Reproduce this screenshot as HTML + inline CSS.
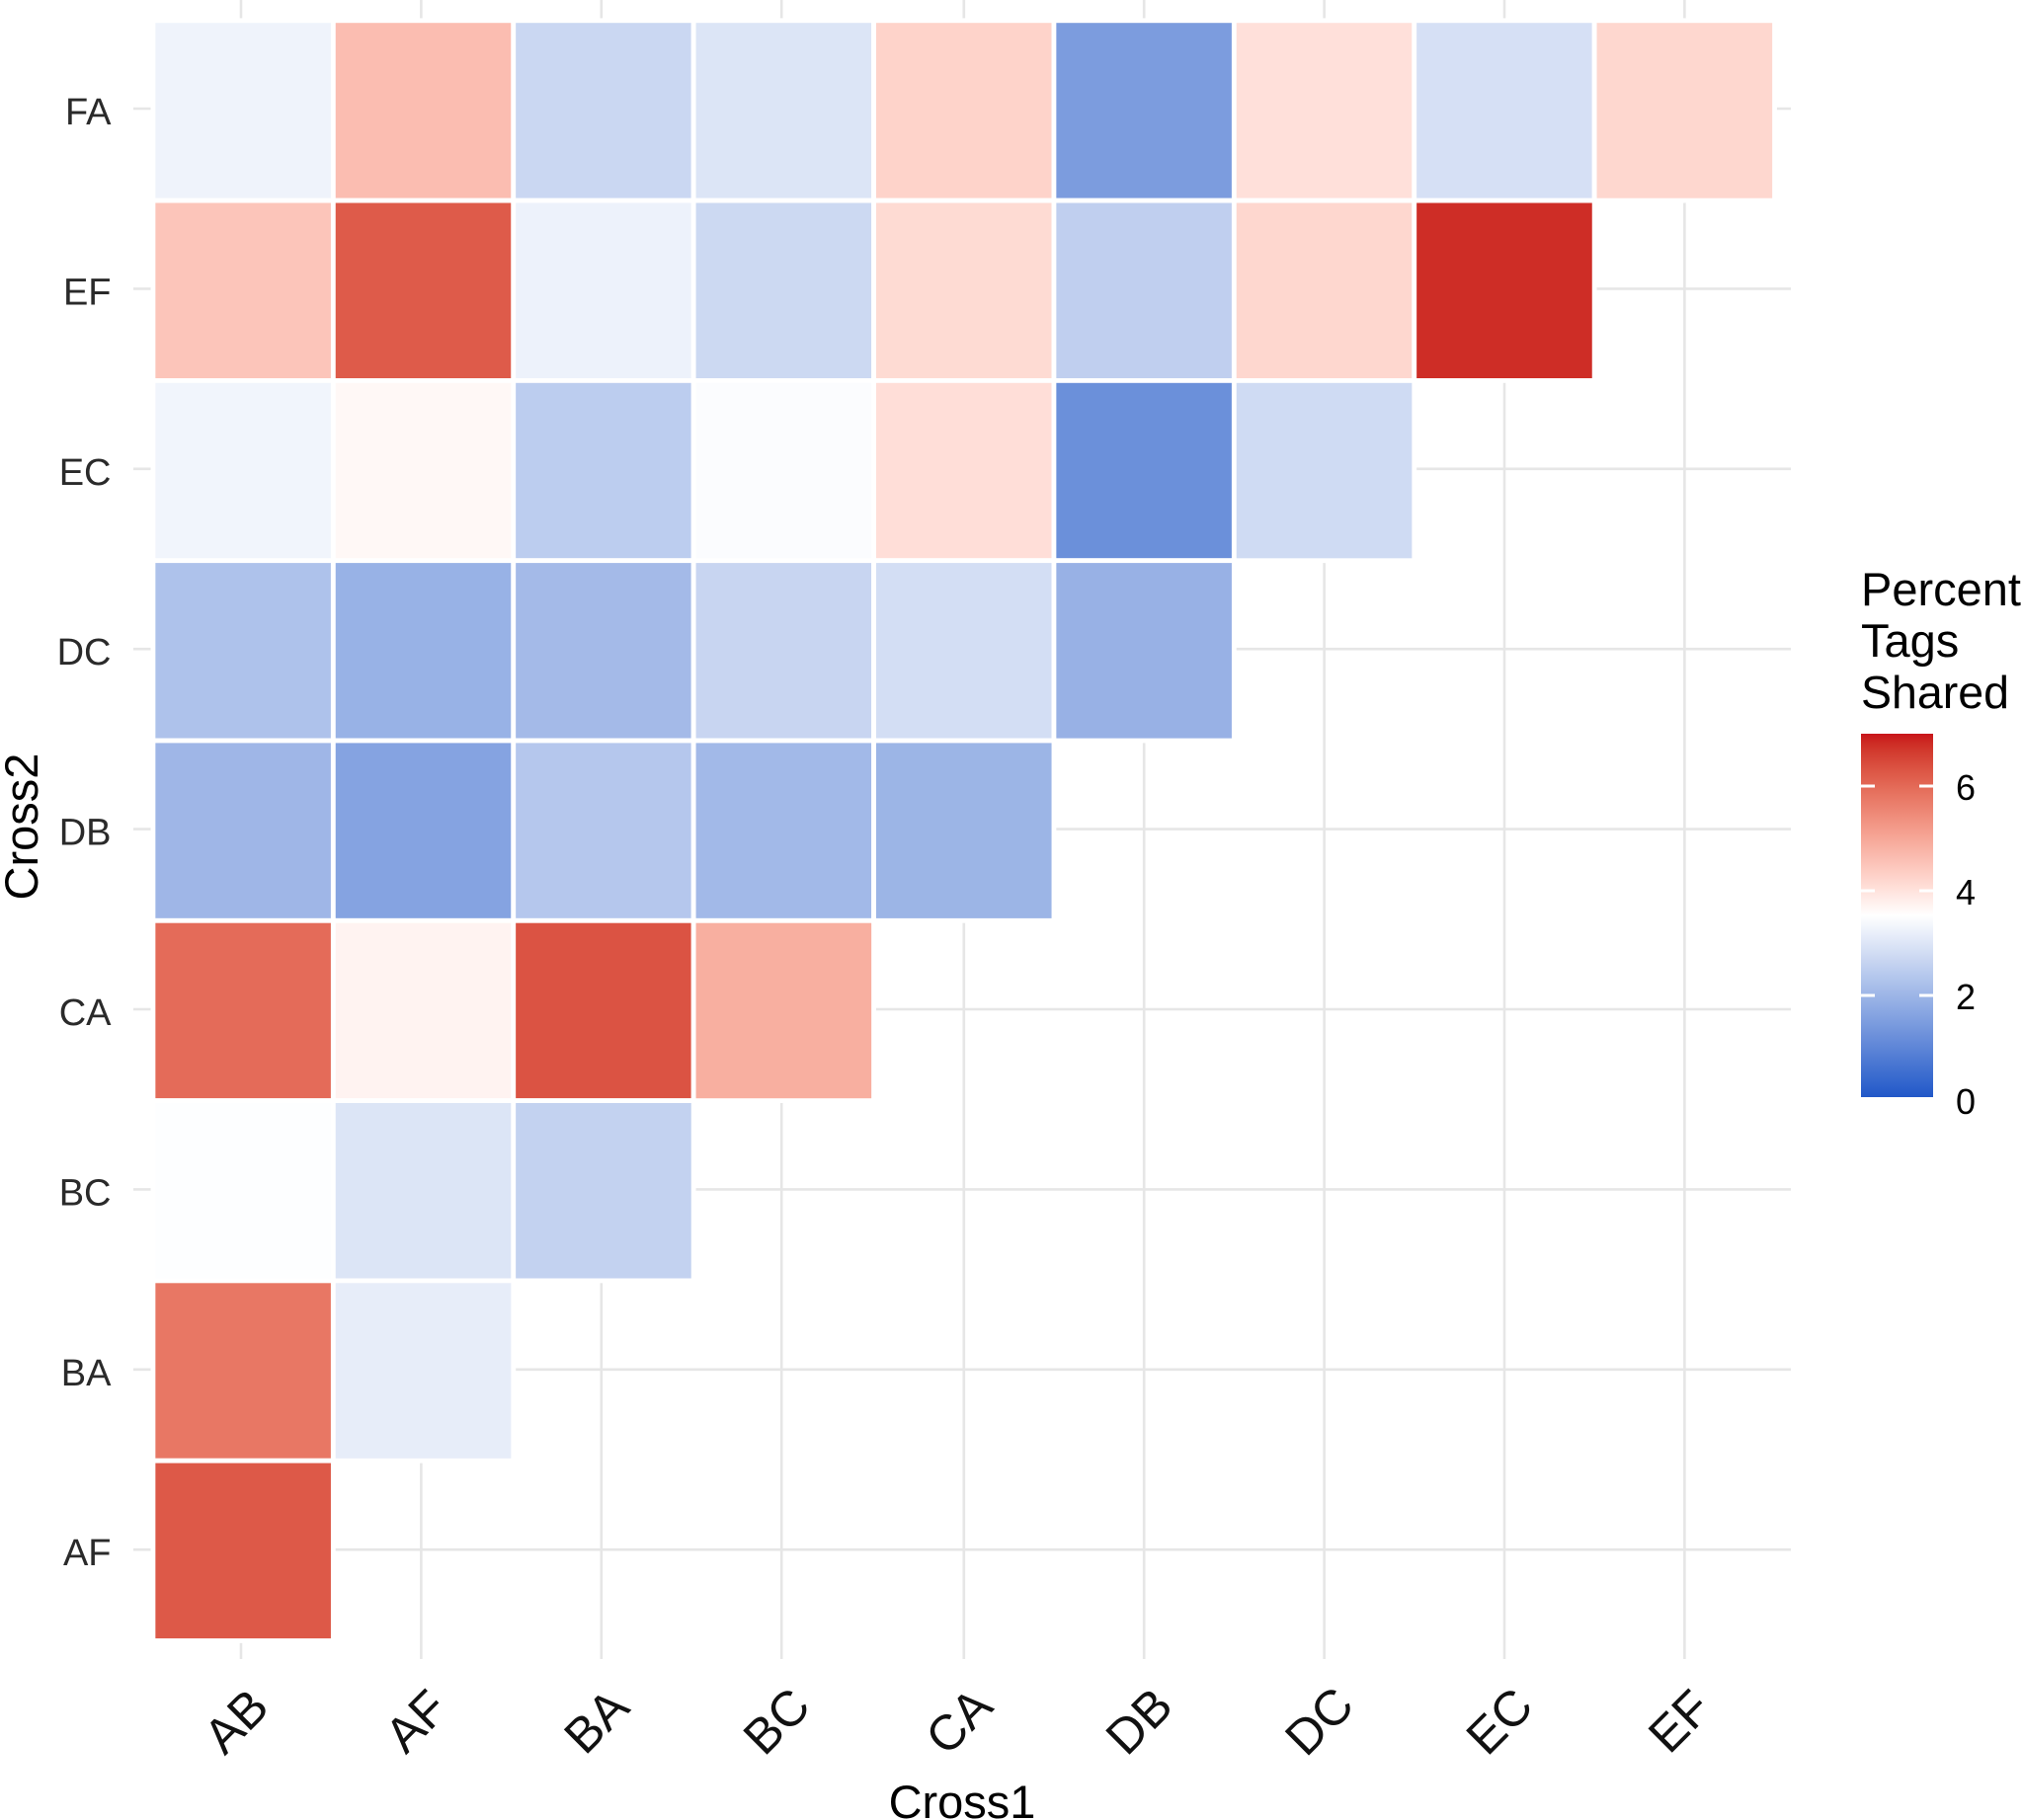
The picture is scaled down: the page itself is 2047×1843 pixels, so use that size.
<!DOCTYPE html>
<html lang="en">
<head>
<meta charset="utf-8">
<title>Percent Tags Shared heatmap</title>
<style>
  html, body { margin: 0; padding: 0; background: #fff; }
  #chart { display: block; width: 2047px; height: 1843px; font-family: "Liberation Sans", sans-serif; }
</style>
</head>
<body>
<svg id="chart" xmlns="http://www.w3.org/2000/svg" width="2047" height="1843" viewBox="0 0 2047 1843">
  <rect x="0" y="0" width="2047" height="1843" fill="#ffffff"/>
  <g id="grid"></g>
  <g id="tiles"></g>
  <g id="x-labels"></g>
  <g id="y-labels"></g>
  <text x="974" y="1841" font-size="47" text-anchor="middle" fill="#000">Cross1</text>
  <text transform="translate(38 837) rotate(-90)" font-size="47" text-anchor="middle" fill="#000">Cross2</text>
  <g>
    <text x="1884" y="613" font-size="47" fill="#000">Percent</text>
    <text x="1884" y="665" font-size="47" fill="#000">Tags</text>
    <text x="1884" y="717" font-size="46.5" fill="#000">Shared</text>
    <defs>
      <linearGradient id="legend-gradient" x1="0" y1="1" x2="0" y2="0"></linearGradient>
    </defs>
    <rect id="legend-bar" x="1884" width="73" fill="url(#legend-gradient)"/>
    <g id="legend-ticks"></g>
  </g>
</svg>
<script>
// Categories
const xCategories = ["AB", "AF", "BA", "BC", "CA", "DB", "DC", "EC", "EF"];
const yCategories = ["FA", "EF", "EC", "DC", "DB", "CA", "BC", "BA", "AF"];

// Series values: one array per Cross2 row, in Cross1 order
const rowFA = [3.24, 4.60, 2.66, 2.95, 4.24, 1.43, 4.02, 2.85, 4.17];
const rowEF = [4.48, 6.20, 3.22, 2.70, 4.11, 2.50, 4.17, 6.80];
const rowEC = [3.28, 3.62, 2.45, 3.44, 4.05, 1.17, 2.75];
const rowDC = [2.22, 1.88, 2.06, 2.63, 2.80, 1.87];
const rowDB = [1.98, 1.57, 2.33, 2.03, 1.94];
const rowCA = [5.96, 3.70, 6.32, 4.85];
const rowBC = [3.47, 2.95, 2.55];
const rowBA = [5.77, 3.12];
const rowAF = [6.23];
const seriesRows = [rowFA, rowEF, rowEC, rowDC, rowDB, rowCA, rowBC, rowBA, rowAF];

// Legend
const legendTickValues = [0, 2, 4, 6];
const legendTickLabels = ["0", "2", "4", "6"];
const legendRange = [0, 7];

// Colour scale (diverging)
const lowColor = "#2158C8";
const midColor = "#FFFFFF";
const highColor = "#C8141A";
const midpointValue = 3.5;

const svgNS = "http://www.w3.org/2000/svg";

function xScale(i) { return 246.15 + 182.4 * i; }
function yScale(i) { return 111.95 + 182.3 * i; }
function gridX(i) { return 244 + 182.4 * i + (i >= 4 ? 2.2 : 0); }
function gridY(i) { return 110 + 182.4 * i; }
function legendY(v) { return 1114 - 53 * v; }

function hexToRgb(h) {
  return [parseInt(h.slice(1, 3), 16), parseInt(h.slice(3, 5), 16), parseInt(h.slice(5, 7), 16)];
}
function rgbToLab(c) {
  const l = c.map(function (u) {
    u /= 255;
    return u <= 0.04045 ? u / 12.92 : Math.pow((u + 0.055) / 1.055, 2.4);
  });
  const X = (0.4124 * l[0] + 0.3576 * l[1] + 0.1805 * l[2]) / 0.95047;
  const Y = 0.2126 * l[0] + 0.7152 * l[1] + 0.0722 * l[2];
  const Z = (0.0193 * l[0] + 0.1192 * l[1] + 0.9505 * l[2]) / 1.08883;
  const f = function (t) { return t > 0.008856 ? Math.cbrt(t) : 7.787 * t + 16 / 116; };
  return [116 * f(Y) - 16, 500 * (f(X) - f(Y)), 200 * (f(Y) - f(Z))];
}
function labToHex(lab) {
  const fy = (lab[0] + 16) / 116, fx = fy + lab[1] / 500, fz = fy - lab[2] / 200;
  const g = function (t) { return t * t * t > 0.008856 ? t * t * t : (t - 16 / 116) / 7.787; };
  const X = g(fx) * 0.95047, Y = g(fy), Z = g(fz) * 1.08883;
  const lin = [
    3.2406 * X - 1.5372 * Y - 0.4986 * Z,
    -0.9689 * X + 1.8758 * Y + 0.0415 * Z,
    0.0557 * X - 0.2040 * Y + 1.0570 * Z
  ];
  return "#" + lin.map(function (u) {
    u = Math.max(0, Math.min(1, u));
    const s = u <= 0.0031308 ? 12.92 * u : 1.055 * Math.pow(u, 1 / 2.4) - 0.055;
    return ("0" + Math.round(s * 255).toString(16)).slice(-2);
  }).join("");
}
const lowRgb = hexToRgb(lowColor);
const midRgb = hexToRgb(midColor);
const midLab = rgbToLab(hexToRgb(midColor));
const highLab = rgbToLab(hexToRgb(highColor));
function colorScale(v) {
  if (v < midpointValue) {
    const tLow = Math.min(1, (midpointValue - v) / (midpointValue - legendRange[0]));
    return "rgb(" + [0, 1, 2].map(function (k) {
      return Math.round(midRgb[k] + (lowRgb[k] - midRgb[k]) * tLow);
    }).join(",") + ")";
  }
  const tHigh = Math.min(1, (v - midpointValue) / (legendRange[1] - midpointValue));
  return labToHex([0, 1, 2].map(function (k) { return midLab[k] + (highLab[k] - midLab[k]) * tHigh; }));
}
function make(tag, attrs, parent) {
  const el = document.createElementNS(svgNS, tag);
  Object.keys(attrs).forEach(function (k) { el.setAttribute(k, attrs[k]); });
  parent.appendChild(el);
  return el;
}

// Grid lines
const gridGroup = document.getElementById("grid");
xCategories.forEach(function (cat, i) {
  const line = make("line", { x1: gridX(i), x2: gridX(i), y1: 0, y2: 1680, stroke: "#e6e6e6", "stroke-width": 2.6 }, gridGroup);
  
  
});
yCategories.forEach(function (cat, i) {
  const line = make("line", { x1: 135, x2: 1813, y1: gridY(i), y2: gridY(i), stroke: "#e6e6e6", "stroke-width": 2.6 }, gridGroup);
  
  
});

// Tiles
const tilesGroup = document.getElementById("tiles");
const tileWidth = 182.4, tileHeight = 182.3;
seriesRows.forEach(function (row, r) {
  row.forEach(function (value, c) {
    const tile = make("rect", {
      x: xScale(c) - tileWidth / 2,
      y: yScale(r) - tileHeight / 2,
      width: tileWidth,
      height: tileHeight,
      fill: colorScale(value),
      stroke: "#ffffff",
      "stroke-width": 4.8
    }, tilesGroup);
    
    
  });
});

// X labels
const xLabelGroup = document.getElementById("x-labels");
xCategories.forEach(function (cat, i) {
  const cx = gridX(i) - 5, cy = 1743;
  const t = make("text", {
    transform: "translate(" + cx + " " + cy + ") rotate(-45)",
    y: 17, "font-size": 50, "text-anchor": "middle", fill: "#111"
  }, xLabelGroup);
  t.textContent = cat;
  
  
});

// Y labels
const yLabelGroup = document.getElementById("y-labels");
yCategories.forEach(function (cat, i) {
  const t = make("text", {
    x: 112.5, y: gridY(i) + 16, "font-size": 38, "text-anchor": "end", fill: "#2a2a2a"
  }, yLabelGroup);
  t.textContent = cat;
  
  
});

// Legend
const legendBar = document.getElementById("legend-bar");
legendBar.setAttribute("y", legendY(legendRange[1]));
legendBar.setAttribute("height", legendY(legendRange[0]) - legendY(legendRange[1]) - 3);
const gradient = document.getElementById("legend-gradient");
for (let s = 0; s <= 40; s++) {
  const v = legendRange[0] + (legendRange[1] - legendRange[0]) * s / 40;
  make("stop", { offset: (s / 40 * 100) + "%", "stop-color": colorScale(v) }, gradient);
}
const legendTicks = document.getElementById("legend-ticks");
legendTickValues.forEach(function (v, i) {
  if (v > legendRange[0]) {
    const left = make("rect", { x: 1884, y: legendY(v) - 1.5, width: 14, height: 3, fill: "#fff" }, legendTicks);
    
    
    const right = make("rect", { x: 1943, y: legendY(v) - 1.5, width: 14, height: 3, fill: "#fff" }, legendTicks);
    
    
  }
  const label = make("text", {
    x: 1990, y: legendY(v) + 14, "font-size": 36, "text-anchor": "middle", fill: "#000"
  }, legendTicks);
  label.textContent = legendTickLabels[i];
  
  
});
</script>
</body>
</html>
